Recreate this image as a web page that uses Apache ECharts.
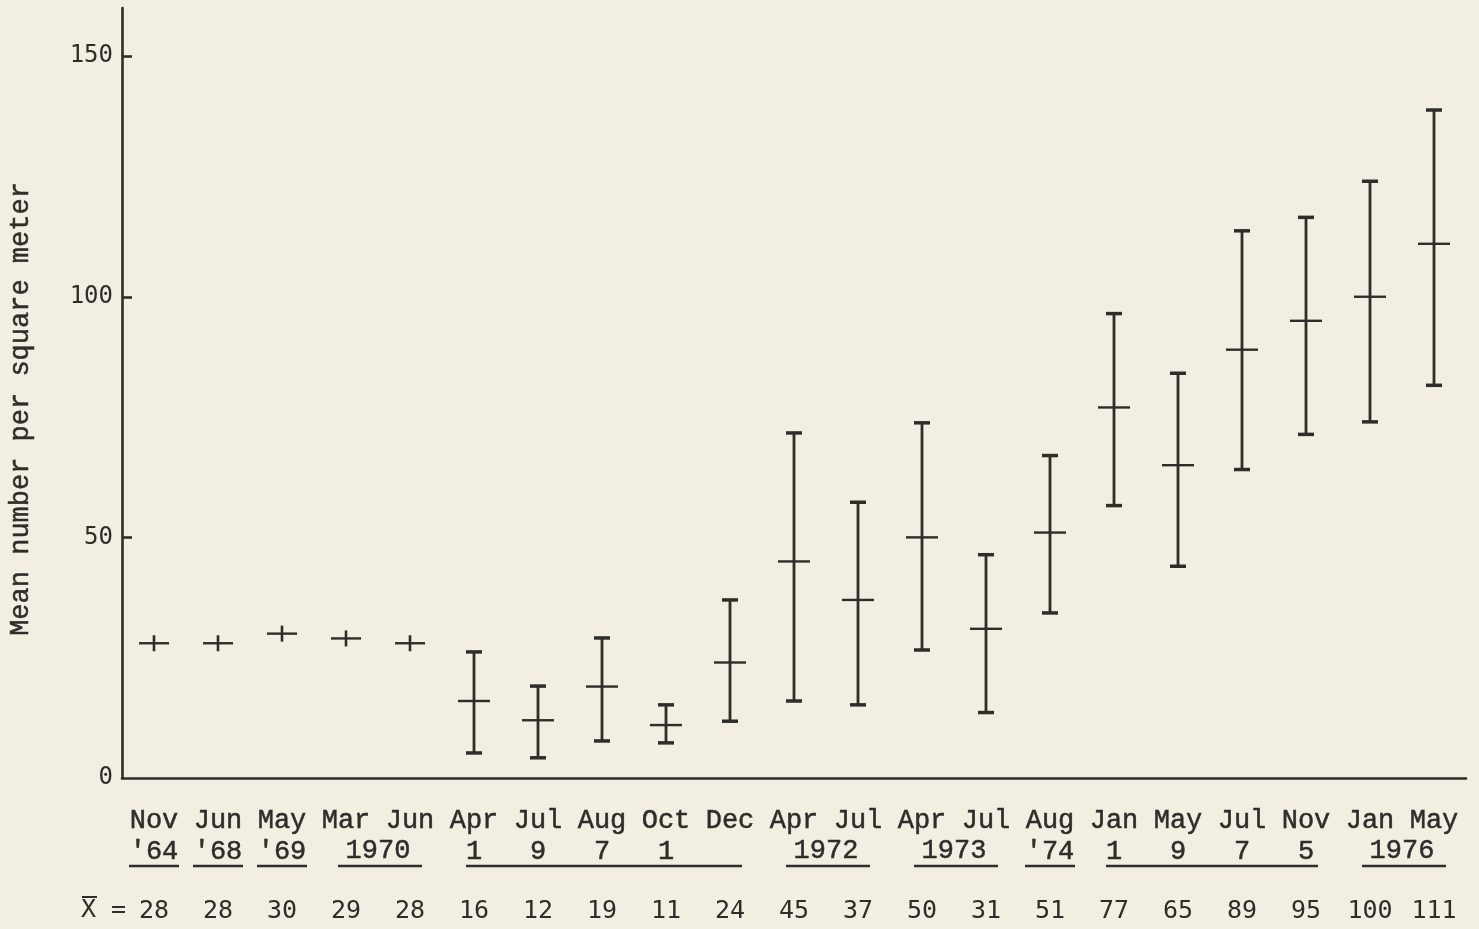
<!DOCTYPE html>
<html><head><meta charset="utf-8">
<script src="https://cdn.jsdelivr.net/npm/echarts@6/dist/echarts.min.js"></script>
<style>html,body{margin:0;padding:0;background:#f2eee1}#c{width:1479px;height:929px}</style>
</head><body><div id="c"></div>
<script>
// ---- data ----
const months = ['Nov','Jun','May','Mar','Jun','Apr','Jul','Aug','Oct','Dec','Apr','Jul','Apr','Jul','Aug','Jan','May','Jul','Nov','Jan','May'];
const yearMarks = ["'64","'68","'69",'','','1','9','7','1','','','','','',"'74",'1','9','7','5','',''];
const yearSpanFrom = [3,10,12,19];
const yearSpanTo = [4,11,13,20];
const yearSpanText = ['1970','1972','1973','1976'];
const underlineFrom = [0,1,2,3,5,10,12,14,15,19];
const underlineTo = [0,1,2,4,9,11,13,14,18,20];
const means = [28,28,30,29,28,16,12,19,11,24,45,37,50,31,51,77,65,89,95,100,111];
const lows = [null,null,null,null,null,5.2,4.2,7.7,7.3,11.8,16.0,15.2,26.6,13.6,34.3,56.6,44.0,64.1,71.4,74.0,81.6];
const highs = [null,null,null,null,null,26.2,19.1,29.1,15.2,37.0,71.7,57.3,73.8,46.4,67.0,96.5,84.1,113.7,116.5,124.0,138.8];
const yTickLabels = [0,50,100,150];
const yTickMarks = [50,100,150];
const yTitle = 'Mean number per square meter';

const ink = '#2f2d2a';
const bg = '#f2eee1';
const monoSerif = 'Liberation Mono';
const monoSans = 'DejaVu Sans Mono';
const heavy = {textBorderColor: ink, textBorderWidth: 0.5};

const chart = echarts.init(document.getElementById('c'));

function renderBar(params, api) {
  const i = api.value(0), m = api.value(1), lo = api.value(2), hi = api.value(3);
  const c = api.coord([i, m]);
  const ch = [];
  if (isFinite(lo) && isFinite(hi)) {
    const pl = api.coord([i, lo]), ph = api.coord([i, hi]);
    ch.push({type:'line', shape:{x1:c[0], y1:ph[1], x2:c[0], y2:pl[1]}, style:{stroke:ink, lineWidth:2.8}});
    ch.push({type:'line', shape:{x1:c[0]-8, y1:ph[1], x2:c[0]+8, y2:ph[1]}, style:{stroke:ink, lineWidth:3.5}});
    ch.push({type:'line', shape:{x1:c[0]-8, y1:pl[1], x2:c[0]+8, y2:pl[1]}, style:{stroke:ink, lineWidth:3.5}});
    ch.push({type:'line', shape:{x1:c[0]-16, y1:c[1], x2:c[0]+16, y2:c[1]}, style:{stroke:ink, lineWidth:2.4}});
  } else {
    ch.push({type:'line', shape:{x1:c[0], y1:c[1]-8, x2:c[0], y2:c[1]+8}, style:{stroke:ink, lineWidth:2.6}});
    ch.push({type:'line', shape:{x1:c[0]-15, y1:c[1], x2:c[0]+15, y2:c[1]}, style:{stroke:ink, lineWidth:2.4}});
  }
  return {type:'group', children: ch};
}

function renderSpan(params, api) {
  const a = api.coord([api.value(0), 0]), b = api.coord([api.value(1), 0]);
  return {type:'text', style:{text: yearSpanText[params.dataIndex], x:(a[0]+b[0])/2, y:a[1]+73,
    align:'center', verticalAlign:'middle', font:'27px "' + monoSerif + '"', fill:ink, stroke: ink, lineWidth: 0.5}};
}

function renderUnderline(params, api) {
  const f = api.value(0), t = api.value(1);
  const a = api.coord([f, 0]), b = api.coord([t, 0]);
  let x1, x2;
  if (f === t) { x1 = a[0]-25; x2 = a[0]+25; } else { x1 = a[0]-8; x2 = b[0]+12; }
  return {type:'line', shape:{x1:x1, y1:a[1]+88, x2:x2, y2:a[1]+88}, style:{stroke:ink, lineWidth:2.6}};
}

const option = {
  backgroundColor: bg,
  animation: false,
  grid: {left:122, right:13, top:8, bottom:151, outerBoundsMode:'none', containLabel:false},
  xAxis: [
    {type:'category', data: months, position:'bottom', boundaryGap:true,
     axisLine:{show:true, onZero:false, lineStyle:{color:ink, width:2.6}},
     axisTick:{show:false}, splitLine:{show:false},
     axisLabel:Object.assign({interval:0, margin:29, color:ink, fontFamily:monoSerif, fontSize:27, lineHeight:27}, heavy)},
    {type:'category', data: yearMarks, position:'bottom', offset:0, boundaryGap:true,
     axisLine:{show:false}, axisTick:{show:false}, splitLine:{show:false},
     axisLabel:Object.assign({interval:0, margin:60, color:ink, fontFamily:monoSerif, fontSize:27, lineHeight:27}, heavy)},
    {type:'category', data: means.map(String), position:'bottom', offset:0, boundaryGap:true,
     axisLine:{show:false}, axisTick:{show:false}, splitLine:{show:false},
     axisLabel:{interval:0, margin:121, color:ink, fontFamily:monoSans, fontSize:25, lineHeight:25}}
  ],
  yAxis: {type:'value', min:0, max:160, interval:50,
    axisLine:{show:true, lineStyle:{color:ink, width:2.6}},
    axisTick:{show:true, inside:true, length:10, customValues: yTickMarks, lineStyle:{color:ink, width:2.6}},
    splitLine:{show:false},
    axisLabel:{margin:9, color:ink, fontFamily:monoSans, fontSize:24, customValues: yTickLabels},
    name: yTitle, nameLocation:'middle', nameRotate:90, nameGap:88,
    nameTextStyle:Object.assign({color:ink, fontFamily:monoSerif, fontSize:27, padding:[0,32,0,0]}, heavy)
  },
  graphic: [
    {type:'text', left:81, top:898, style:{text:'X =', font:'25px "' + monoSans + '"', fill:ink}},
    {type:'line', shape:{x1:82, y1:897, x2:97, y2:897}, style:{stroke:ink, lineWidth:2}}
  ],
  series: [
    {type:'custom', name:'bars', renderItem: renderBar, clip:false, z:5,
     encode:{x:0, y:1},
     data: means.map((m,i)=>[i, m, lows[i] === null ? NaN : lows[i], highs[i] === null ? NaN : highs[i]])},
    {type:'custom', name:'spans', renderItem: renderSpan, clip:false, z:5,
     data: yearSpanFrom.map((f,i)=>[f, yearSpanTo[i]])},
    {type:'custom', name:'underlines', renderItem: renderUnderline, clip:false, z:5,
     data: underlineFrom.map((f,i)=>[f, underlineTo[i]])}
  ]
};
chart.setOption(option);
</script>
</body></html>
